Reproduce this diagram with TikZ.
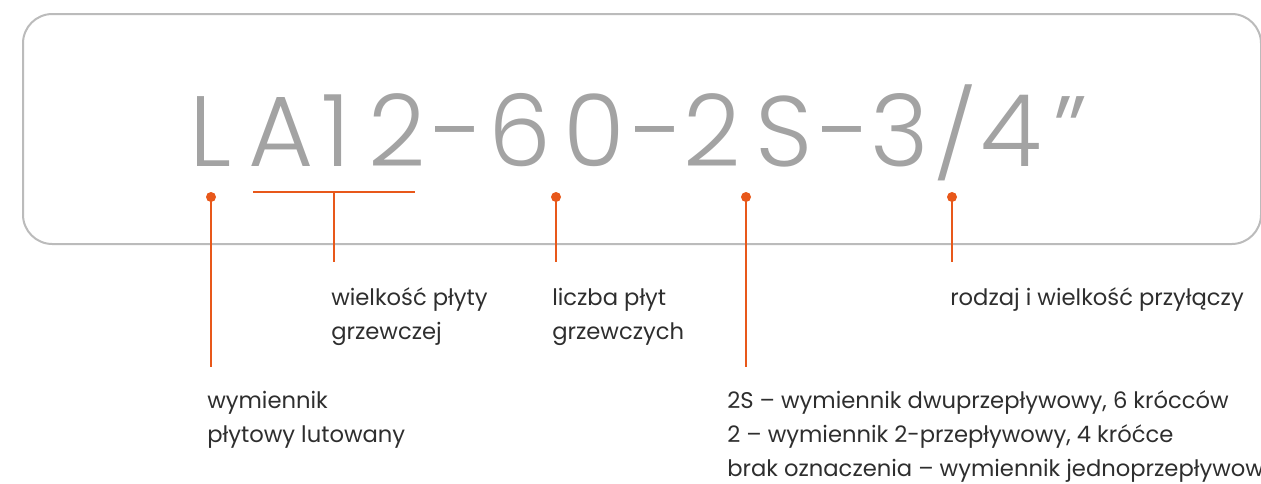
\documentclass[tikz,border=0pt]{standalone}
\usepackage{fontspec}
\setmainfont{Poppins}
\newfontfamily\codefont{Poppins Light}
\definecolor{orng}{HTML}{E8581A}
\definecolor{bigg}{HTML}{A3A3A3}
\definecolor{boxg}{HTML}{BBBBBB}
\definecolor{txt}{HTML}{2E2E2E}
\tikzset{
  glyph/.style={anchor=base, inner sep=0pt, text=bigg, font=\codefont\fontsize{75}{75}\selectfont},
  lbl/.style={anchor=base west, inner sep=0pt, text=txt, font=\fontsize{17}{20}\selectfont},
  dotnode/.style={circle, fill=orng, inner sep=0pt, minimum size=7.5pt},
  conn/.style={draw=orng, line width=1.9pt},
  frame/.style={draw=boxg, line width=1.5pt, rounded corners=22pt}
}
\begin{document}
\begin{tikzpicture}[x=0.75pt,y=-0.75pt]
\useasboundingbox (0,0) rectangle (1261,483);
\draw[frame] (23,14) rectangle (1261,244);
% code characters
\node[glyph] (g1) at (211,166) {L};
\node[glyph] (g2) at (281,166) {A};
\node[glyph] (g3) at (336,166) {1};
\node[glyph] (g4) at (397,166) {2};
\node[glyph] (g5) at (458,166) {-};
\node[glyph] (g6) at (520,166) {6};
\node[glyph] (g7) at (594,166) {0};
\node[glyph] (g8) at (658,166) {-};
\node[glyph] (g9) at (712,166) {2};
\node[glyph] (g10) at (784,166) {S};
\node[glyph] (g11) at (845,166) {-};
\node[glyph] (g12) at (900,166) {3};
\node[glyph] (g13) at (956,166) {\scalebox{1}[0.87]{/}};
\node[glyph] (g14) at (1011,166) {4};
\node[glyph] (g15) at (1071,166) {”};
% markers
\node[dotnode] (d1) at (211,197) {};
\node[dotnode] (d2) at (556,197) {};
\node[dotnode] (d3) at (746,197) {};
\node[dotnode] (d4) at (952,197) {};
\coordinate (e1) at (211,367);
\coordinate (e2) at (556,262);
\coordinate (e3) at (746,367);
\coordinate (e4) at (952,262);
\coordinate (bl) at (253,192);
\coordinate (br) at (415,192);
\coordinate (bm) at (334,192);
\coordinate (be) at (334,262);
\draw[conn] (d1.center) -- (e1);
\draw[conn] (d2.center) -- (e2);
\draw[conn] (d3.center) -- (e3);
\draw[conn] (d4.center) -- (e4);
\draw[conn] (bl) -- (br);
\draw[conn] (bm) -- (be);
% labels
\node[lbl] (t1a) at (331,305) {wielkość płyty};
\node[lbl] (t1b) at (331,339) {grzewczej};
\node[lbl] (t2a) at (552,305) {liczba płyt};
\node[lbl] (t2b) at (552,339) {grzewczych};
\node[lbl] (t3) at (950,305) {rodzaj i wielkość przyłączy};
\node[lbl] (t4a) at (207,408) {wymiennik};
\node[lbl] (t4b) at (207,442) {płytowy lutowany};
\node[lbl] (t5a) at (727,408) {2S – wymiennik dwuprzepływowy, 6 krócców};
\node[lbl] (t5b) at (727,442) {2 – wymiennik 2-przepływowy, 4 króćce};
\node[lbl] (t5c) at (727,476) {brak oznaczenia – wymiennik jednoprzepływowy};
\end{tikzpicture}
\end{document}
